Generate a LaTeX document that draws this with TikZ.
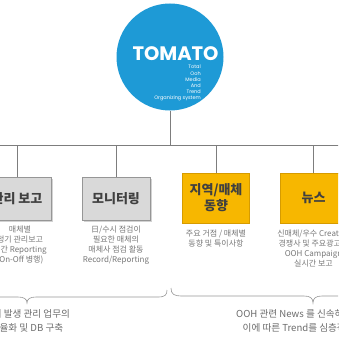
\documentclass[tikz,border=0pt]{standalone}
\usepackage{fontspec}
\setmainfont{Noto Sans CJK KR}
\newfontfamily\krfont{Noto Sans CJK KR}
\newfontfamily\logofont{Poppins}
\usetikzlibrary{positioning,shadows}

\definecolor{tomblue}{RGB}{30,154,214}
\definecolor{tomyellow}{RGB}{247,183,0}
\definecolor{ylwline}{RGB}{214,155,0}
\definecolor{boxgray}{RGB}{217,217,217}
\definecolor{boxline}{RGB}{150,150,150}
\definecolor{titlegray}{RGB}{64,64,64}
\definecolor{subgray}{RGB}{120,120,120}
\definecolor{linegray}{RGB}{125,125,125}

\begin{document}
\begin{tikzpicture}[x=1pt, y=-1pt,
  font=\krfont,
  every node/.style={align=center},
  hub/.style={circle, fill=tomblue, minimum size=107pt, inner sep=0pt},
  grybox/.style={draw=boxline, fill=boxgray, minimum width=68pt, minimum height=43pt, inner sep=2pt,
    text=titlegray, font=\krfont\bfseries\fontsize{13}{15}\selectfont,
    drop shadow={shadow xshift=1.5pt, shadow yshift=-1.5pt, opacity=0.35}},
  ylwbox/.style={draw=ylwline, fill=tomyellow, minimum width=67pt, minimum height=50pt, inner sep=2pt,
    text=titlegray, font=\krfont\bfseries\fontsize{13}{16}\selectfont},
  sub/.style={font=\krfont\fontsize{8}{10}\selectfont, text=subgray, inner sep=0pt},
  note/.style={font=\krfont\fontsize{9.6}{14}\selectfont, text=subgray!90!black, inner sep=0pt},
  link/.style={draw=linegray, line width=0.9pt},
  brace/.style={draw=linegray!80, line width=0.6pt},
]
\clip (0,0) rectangle (338,350);
\fill[white] (0,0) rectangle (338,350);

% centre
\node[hub] (hub) at (170,57) {};
\node[font=\logofont\bfseries\fontsize{19.5}{21}\selectfont, text=white, inner sep=0pt] (logo) at (175.5,53.5) {TOMATO};
\node[font=\logofont\fontsize{5}{6.2}\selectfont, text=white, align=right, anchor=north east, inner sep=0pt] (tagline) at (201,65)
  {Total\\Ooh\\Media\\And\\Trend\\Organizing system};

% branches
\node[grybox] (b1) at (17,198.5) {관리 보고};
\node[grybox] (b2) at (116,198.5) {모니터링};
\node[ylwbox] (b3) at (216,198) {지역/매체\\동향};
\node[ylwbox] (b4) at (313.5,198) {뉴스};

\node[sub, below=5pt of b1, xshift=3pt] (s1) {매체별\\정기 관리보고\\월간 Reporting\\(On-Off 병행)};
\node[sub, below=5pt of b2] (s2) {日/수시 점검이\\필요한 매체의\\매체사 점검 활동\\Record/Reporting};
\node[sub, below=6pt of b3] (s3) {주요 거점 / 매체별\\동향 및 특이사항};
\node[sub, below=6pt of b4] (s4) {신매체/우수 Creative\\경쟁사 및 주요광고주\\OOH Campaign\\실시간 보고};

\coordinate (busL) at (-5,145);
\coordinate (busR) at (345,145);
\draw[link] (hub) -- (hub |- busL);
\draw[link] (busL) -- (busR);
\foreach \b in {b1,b2,b3,b4}
  \draw[link] (\b.north) -- (\b.north |- busL);

% braces
\coordinate (tipA) at (27,303);
\coordinate (tipB) at (313,303);
\draw[brace] (167,290) .. controls (167,295) and (165,297) .. (158,297) -- (36,297)
  .. controls (30,297) and (27,299) .. (tipA) .. controls (27,299) and (24,297) .. (18,297) -- (-10,297);
\draw[brace] (171,288) .. controls (171,294) and (174,296) .. (181,296) -- (304,296)
  .. controls (310,296) and (313,298) .. (tipB) .. controls (313,298) and (316,296) .. (322,296) -- (345,296);

\node[note, below=6pt of tipA] (noteA) {수시 발생 관리 업무의\\효율화 및 DB 구축};
\node[note, below=6pt of tipB] (noteB) {OOH 관련 News 를 신속하게 보고하고\\이에 따른 Trend를 심층적으로 분석};
\end{tikzpicture}
\end{document}
